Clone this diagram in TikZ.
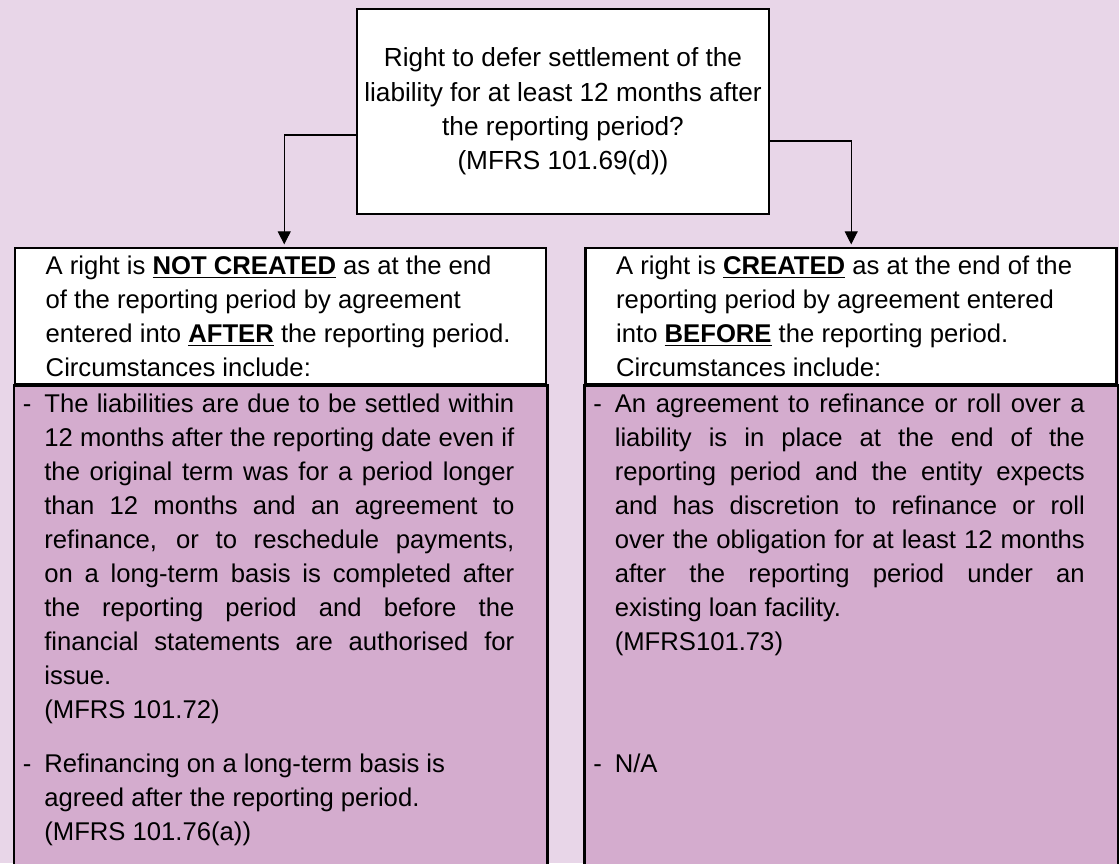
\documentclass[tikz,border=0pt]{standalone}
\usepackage{fontspec}
\setmainfont{Liberation Sans}
\usetikzlibrary{positioning}
\usetikzlibrary{arrows.meta}
\definecolor{bgpurple}{RGB}{232,214,232}
\definecolor{boxpurple}{RGB}{212,172,206}
\newcommand*{\keyword}[1]{\underline{\textbf{#1}}}
\newcommand*{\itemdash}{\llap{-\hspace{0.26cm}}}

\begin{document}
\begin{tikzpicture}[font=\fontsize{14.6}{19.35}\selectfont,
  frame/.style={draw, line width=1.4pt},
  head/.style={frame, fill=white, text width=9.4cm, inner xsep=0.61cm, inner ysep=0pt, minimum height=2.72cm, align=justify},
  body/.style={text width=9.4cm, inner sep=0pt, anchor=north west, align=justify},
  link/.style={-{Triangle[width=0.26cm,length=0.26cm]}, line width=0.6pt, shorten >=1.5pt}]
 \fill[bgpurple] (0,0) rectangle (22.38,17.26);
 \useasboundingbox (0,0) rectangle (22.38,17.26);
% question and the two answers
\node[frame, fill=white, minimum width=8.24cm, minimum height=4.1cm, inner sep=0pt, align=center,
  font=\fontsize{14.9}{19.6}\selectfont] (question) at (11.26,15.03)
  {Right to defer settlement of the\\ liability for at least 12 months after\\ the reporting period?\\ (MFRS 101.69(d))};
\node[head, anchor=north west] (notcreated) at (0.28,12.32)
  {A right is \keyword{NOT CREATED} as at the end\\ of the reporting period by agreement\\ entered into \keyword{AFTER} the reporting period.\\ Circumstances include:};
\node[head, right=0.74cm of notcreated] (created)
  {A right is \keyword{CREATED} as at the end of the\\ reporting period by agreement entered\\ into \keyword{BEFORE} the reporting period.\\ Circumstances include:};
\draw[frame, fill=boxpurple] (notcreated.south west) rectangle ([yshift=-10cm]notcreated.south east);
\draw[frame, fill=boxpurple] (created.south west) rectangle ([yshift=-10cm]created.south east);
\draw[link] ([yshift=-0.47cm]question.west) -| ([xshift=0.07cm]notcreated.north);
\draw[link] ([yshift=-0.59cm]question.east) -| (created.north);
% circumstances
\node[body] (notfirst) at ([xshift=0.6cm, yshift=-0.16cm]notcreated.south west)
  {\itemdash The liabilities are due to be settled within\linebreak
   12 months after the reporting date even if\linebreak
   the original term was for a period longer\linebreak
   than 12 months and an agreement to\linebreak
   refinance, or to reschedule payments,\linebreak
   on a long-term basis is completed after\linebreak
   the reporting period and before the\linebreak
   financial statements are authorised for\linebreak
   issue.\\ (MFRS 101.72)};
\node[body] (createdfirst) at ([xshift=0.6cm, yshift=-0.16cm]created.south west)
  {\itemdash An agreement to refinance or roll over a\linebreak
   liability is in place at the end of the\linebreak
   reporting period and the entity expects\linebreak
   and has discretion to refinance or roll\linebreak
   over the obligation for at least 12 months\linebreak
   after the reporting period under an\linebreak
   existing loan facility.\\ (MFRS101.73)};
\node[body] (notsecond) at (0.88,2.18)
  {\itemdash Refinancing on a long-term basis is\\ agreed after the reporting period.\\ (MFRS 101.76(a))};
\node[body] (createdsecond) at (notsecond.north -| createdfirst.west) {\itemdash N/A};
\end{tikzpicture}
\end{document}
